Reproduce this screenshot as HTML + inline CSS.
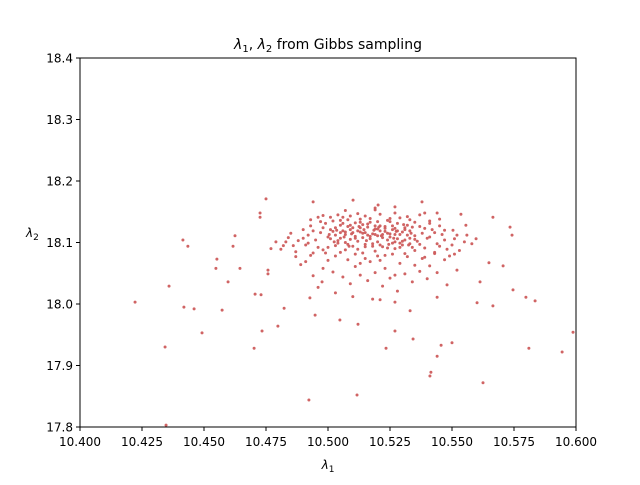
<!DOCTYPE html>
<html><head><meta charset="utf-8"><style>
html,body{margin:0;padding:0;background:#fff;}
svg text{font-family:"DejaVu Sans","Liberation Sans",sans-serif;fill:#000;}
</style></head><body>
<svg width="640" height="480" xmlns="http://www.w3.org/2000/svg">
<rect width="640" height="480" fill="#fff"/>
<text x="328" y="49" font-size="14" text-anchor="middle"><tspan font-style="italic">λ</tspan><tspan font-size="10" dy="3">1</tspan><tspan dy="-3">, </tspan><tspan font-style="italic">λ</tspan><tspan font-size="10" dy="3">2</tspan><tspan dy="-3"> from Gibbs sampling</tspan></text>
<g id="points"></g>
<rect x="80" y="58" width="496" height="369" fill="none" stroke="#000" stroke-width="1"/>
<g id="xt"></g>
<g id="yt"></g>
<text x="328" y="469" font-size="12" text-anchor="middle"><tspan font-style="italic">λ</tspan><tspan font-size="9" dy="3">1</tspan></text>
<text x="26" y="237" font-size="12"><tspan font-style="italic">λ</tspan><tspan font-size="9" dy="3">2</tspan></text>
</svg>
<script>
const xTicks=[10.400,10.425,10.450,10.475,10.500,10.525,10.550,10.575,10.600];
const yTicks=[17.8,17.9,18.0,18.1,18.2,18.3,18.4];
const lambda1=[10.4222,10.4343,10.4347,10.4359,10.4415,10.4435,10.4419,10.4460,10.4492,10.4552,10.4548,10.4573,10.4597,10.4625,10.4617,10.4645,10.4702,10.4706,10.4730,10.4734,10.4758,10.4758,10.4750,10.4726,10.4726,10.4798,10.4823,10.4923,10.5117,10.5234,10.5270,10.5343,10.5411,10.5415,10.5440,10.5456,10.5500,10.5625,10.5810,10.5944,10.5988,10.5835,10.5798,10.5746,10.5706,10.5734,10.5742,10.5665,10.5597,10.5613,10.5601,10.5665,10.5649,10.5536,10.5556,10.5504,10.5520,10.5480,10.5440,10.5331,10.5270,10.5210,10.5121,10.5048,10.4948,10.4927,10.4976,10.5379,10.5202,10.5101,10.4940,10.5440,
10.501,10.503,10.505,10.507,10.509,10.511,10.512,10.514,10.516,10.518,10.520,10.521,10.523,10.525,10.527,10.529,10.531,10.533,10.535,10.537,
10.502,10.504,10.506,10.508,10.510,10.513,10.515,10.517,10.519,10.522,10.524,10.526,10.528,10.530,10.532,10.534,10.536,10.538,10.540,10.542,
10.497,10.495,10.493,10.491,10.499,10.498,10.496,10.494,10.492,10.490,10.488,10.486,10.485,10.483,10.481,10.487,10.489,
10.544,10.546,10.548,10.545,10.543,10.541,10.539,10.547,10.550,10.552,10.549,10.553,10.555,
10.505,10.508,10.511,10.514,10.517,10.520,10.523,10.526,10.529,10.532,10.535,10.538,10.500,10.502,10.506,10.509,10.513,10.516,10.519,10.522,10.525,10.528,10.531,10.534,10.537,10.540,10.498,10.494,10.491,10.496,10.503,10.510,10.518,10.527,10.541,10.544,
10.507,10.509,10.511,10.513,10.515,10.517,10.519,10.521,10.522,10.524,10.526,10.528,10.530,10.503,10.505,10.512,10.516,10.520,10.524,10.527,10.531,10.506,10.514,10.518,10.523,10.529,10.533,10.500,10.510,10.520,10.515,10.525,10.508,10.535,10.504,10.512,10.519,10.527,10.532,10.498];
const lambda2=[18.003,17.930,17.803,18.029,18.104,18.094,17.995,17.992,17.953,18.073,18.058,17.990,18.036,18.111,18.094,18.058,17.928,18.016,18.015,17.956,18.049,18.055,18.171,18.148,18.141,17.964,17.993,17.844,17.852,17.928,17.956,17.943,17.883,17.889,17.915,17.933,17.937,17.872,17.928,17.922,17.954,18.005,18.011,18.023,18.062,18.125,18.112,18.141,18.106,18.036,18.002,17.997,18.067,18.146,18.128,18.120,18.055,18.031,18.011,17.989,18.047,18.007,17.967,17.974,17.982,18.010,18.036,18.166,18.161,18.169,18.166,18.148,
18.121,18.112,18.128,18.117,18.105,18.132,18.119,18.108,18.125,18.114,18.101,18.127,18.118,18.109,18.123,18.113,18.104,18.119,18.111,18.126,
18.135,18.099,18.141,18.126,18.094,18.138,18.097,18.133,18.122,18.093,18.136,18.099,18.131,18.096,18.128,18.092,18.102,18.115,18.107,18.121,
18.116,18.104,18.127,18.096,18.131,18.088,18.141,18.083,18.112,18.121,18.103,18.095,18.115,18.101,18.089,18.077,18.064,
18.098,18.113,18.089,18.127,18.082,18.135,18.091,18.104,18.096,18.112,18.078,18.087,18.101,
18.084,18.072,18.061,18.083,18.069,18.078,18.058,18.081,18.066,18.077,18.063,18.074,18.071,18.052,18.044,18.033,18.047,18.038,18.051,18.029,18.042,18.021,18.049,18.036,18.053,18.041,18.058,18.046,18.069,18.027,18.018,18.012,18.008,18.003,18.062,18.051,
18.113,18.121,18.110,18.124,18.116,18.106,18.113,18.119,18.108,18.115,18.121,18.106,18.117,18.124,18.107,18.102,18.112,18.111,18.104,18.113,18.124,18.119,18.129,18.098,18.126,18.099,18.107,18.109,18.116,18.134,18.143,18.139,18.137,18.133,18.145,18.147,18.153,18.148,18.142,18.144];
const coreL1=[10.500,10.502,10.504,10.506,10.508,10.510,10.512,10.514,10.516,10.518,10.520,10.522,10.524,10.526,10.528,10.530,10.532,10.534,
10.501,10.503,10.505,10.507,10.509,10.511,10.513,10.515,10.517,10.519,10.521,10.523,10.525,10.527,10.529,10.531,10.533,10.535,
10.5005,10.5035,10.5065,10.5095,10.5125,10.5155,10.5185,10.5215,10.5245,10.5275,10.5305,10.5335,10.5025,10.5085,10.5145,10.5205,10.5265,10.5325,
10.490,10.492,10.494,10.496,10.498,10.537,10.539,10.541,10.543,10.545,10.547,10.551,10.484,10.482,10.479,10.477,10.556,10.558,
10.499,10.503,10.507,10.511,10.515,10.519,10.523,10.527,10.531,10.535,10.539,10.543,10.493,10.487,10.547,10.551,10.513,10.521,
10.497,10.501,10.505,10.509,10.513,10.517,10.521,10.525,10.529,10.533,10.537,10.541,10.545,10.493,10.507,10.519,10.527,10.539];
const coreL2=[18.092,18.118,18.103,18.131,18.097,18.124,18.089,18.115,18.130,18.094,18.122,18.113,18.091,18.127,18.119,18.102,18.112,18.125,
18.106,18.095,18.116,18.100,18.128,18.107,18.117,18.093,18.110,18.127,18.096,18.123,18.114,18.101,18.092,18.121,18.098,18.105,
18.113,18.120,18.109,18.114,18.126,18.103,18.120,18.111,18.097,18.118,18.129,18.115,18.101,18.094,18.121,18.125,18.107,18.096,
18.107,18.099,18.119,18.092,18.124,18.097,18.123,18.109,18.116,18.094,18.120,18.106,18.108,18.095,18.101,18.090,18.112,18.098,
18.083,18.078,18.088,18.081,18.074,18.086,18.079,18.090,18.082,18.087,18.076,18.084,18.079,18.085,18.072,18.081,18.066,18.071,
18.134,18.141,18.136,18.143,18.133,18.139,18.146,18.134,18.140,18.137,18.145,18.131,18.138,18.137,18.152,18.156,18.158,18.148];
const NS='http://www.w3.org/2000/svg';
const L=80,R=576,T=58,B=427,X0=10.4,X1=10.6,Y0=17.8,Y1=18.4;
const sx=v=>L+(v-X0)/(X1-X0)*(R-L);
const sy=v=>B-(v-Y0)/(Y1-Y0)*(B-T);
const pg=document.getElementById('points');
const allX=lambda1.concat(coreL1), allY=lambda2.concat(coreL2);
for(let i=0;i<allX.length;i++){
  const c=document.createElementNS(NS,'circle');
  c.setAttribute('cx',sx(allX[i]));c.setAttribute('cy',sy(allY[i]));
  c.setAttribute('r',1.5);c.setAttribute('fill','#cd5c5c');c.setAttribute('opacity','0.95');
  
  
  pg.appendChild(c);
}
const xg=document.getElementById('xt');
xTicks.forEach(v=>{
  const x=sx(v);
  const l=document.createElementNS(NS,'line');
  l.setAttribute('x1',x);l.setAttribute('x2',x);l.setAttribute('y1',B);l.setAttribute('y2',B+4);l.setAttribute('stroke','#000');
  
  
  xg.appendChild(l);
  const t=document.createElementNS(NS,'text');
  t.setAttribute('x',x);t.setAttribute('y',B+19);t.setAttribute('font-size','12');t.setAttribute('text-anchor','middle');
  t.textContent=v.toFixed(3);
  
  
  xg.appendChild(t);
});
const yg=document.getElementById('yt');
yTicks.forEach(v=>{
  const y=sy(v);
  const l=document.createElementNS(NS,'line');
  l.setAttribute('x1',L-4);l.setAttribute('x2',L);l.setAttribute('y1',y);l.setAttribute('y2',y);l.setAttribute('stroke','#000');
  
  
  yg.appendChild(l);
  const t=document.createElementNS(NS,'text');
  t.setAttribute('x',L-7);t.setAttribute('y',y+4.5);t.setAttribute('font-size','12');t.setAttribute('text-anchor','end');
  t.textContent=v.toFixed(1);
  
  
  yg.appendChild(t);
});
</script>
</body></html>
